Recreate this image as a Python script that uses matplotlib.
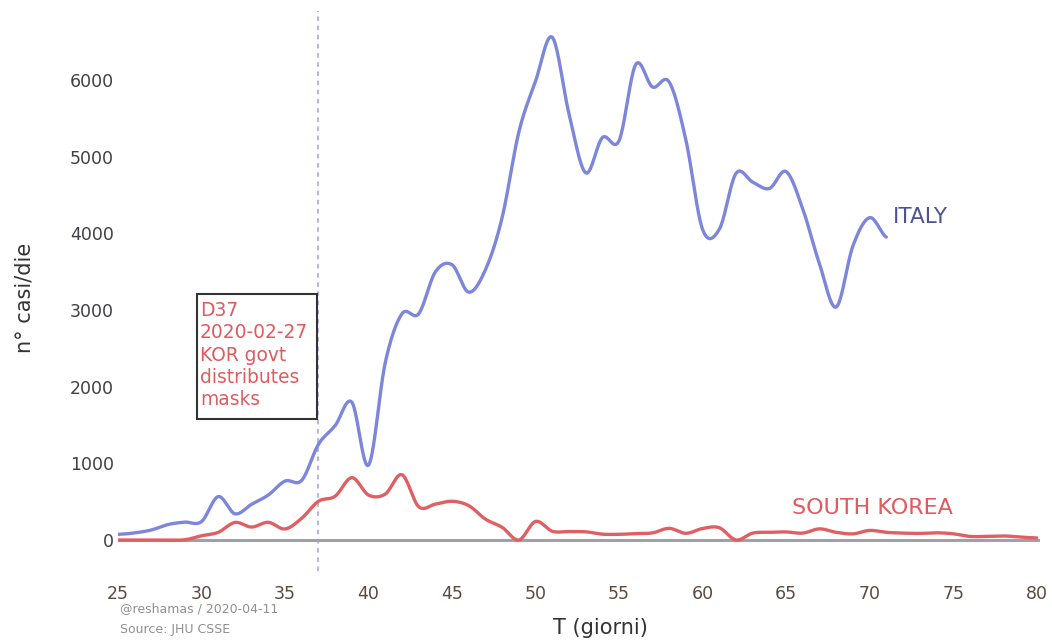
import numpy as np
import matplotlib
matplotlib.use("Agg")
import matplotlib.pyplot as plt
from matplotlib.patches import Rectangle

# ---- data ----
italy_days = list(range(25, 72))
italy_cases = [74, 93, 131, 202, 233, 240, 566, 342, 466, 587, 769, 778, 1247, 1492,
               1797, 977, 2313, 2950, 2950, 3497, 3590, 3233, 3526, 4207, 5322, 5986,
               6557, 5560, 4789, 5249, 5210, 6203, 5909, 5974, 5217, 4050, 4053, 4782,
               4668, 4585, 4805, 4316, 3599, 3039, 3836, 4204, 3951]

korea_days = list(range(25, 81))
korea_cases = [0, 0, 0, 0, 3, 55, 100, 229, 169, 231, 144, 284, 505, 571, 813, 586,
               599, 851, 435, 467, 505, 448, 272, 165, 0, 242, 114, 110, 107, 76, 74,
               84, 93, 152, 87, 150, 160, 0, 90, 100, 105, 90, 145, 100, 80, 125, 100,
               90, 86, 94, 81, 47, 47, 53, 39, 27]

x_ticks = [25, 30, 35, 40, 45, 50, 55, 60, 65, 70, 75, 80]
y_ticks = [0, 1000, 2000, 3000, 4000, 5000, 6000]
event_day = 37
event_text = "D37\n2020-02-27\nKOR govt\ndistributes\nmasks"


def catmull_rom(x, y, n=20):
    x = np.asarray(x, float)
    y = np.asarray(y, float)
    xp = np.concatenate([[2 * x[0] - x[1]], x, [2 * x[-1] - x[-2]]])
    yp = np.concatenate([[y[0]], y, [y[-1]]])
    xs, ys = [], []
    t = np.linspace(0, 1, n, endpoint=False)
    for i in range(1, len(xp) - 2):
        def f(a0, a1, a2, a3):
            return 0.5 * ((2 * a1) + (-a0 + a2) * t + (2 * a0 - 5 * a1 + 4 * a2 - a3) * t ** 2
                          + (-a0 + 3 * a1 - 3 * a2 + a3) * t ** 3)
        xs.append(f(xp[i - 1], xp[i], xp[i + 1], xp[i + 2]))
        ys.append(f(yp[i - 1], yp[i], yp[i + 1], yp[i + 2]))
    xs.append([x[-1]])
    ys.append([y[-1]])
    return np.concatenate(xs), np.concatenate(ys)


fig = plt.figure(figsize=(10.52, 6.41), dpi=100)
W, H = 1052, 641
L, R, T, B = 118, 1040, 11, 551.5
ax = fig.add_axes([L / W, 1 - B / H, (R - L) / W, (B - T) / H])
ax.set_xlim(25, 80.2)
ax.set_ylim(-150, 6900)

for s in ax.spines.values():
    s.set_visible(False)

ax.axhline(0, color="#a0a0a8", lw=2.2, zorder=1)

ix, iy = catmull_rom(italy_days, italy_cases)
kx, ky = catmull_rom(korea_days, korea_cases)
ax.plot(ix, iy, color="#7c86da", lw=2.4, zorder=3, solid_capstyle="round")
ax.plot(kx, ky, color="#e05f63", lw=2.4, zorder=3, solid_capstyle="round")

ax.plot([event_day, event_day], [-400, 6900], color="#9aa3e0", lw=1.1,
        ls=(0, (3, 3)), clip_on=False, zorder=2)

ax.set_xticks(x_ticks)
ax.set_yticks(y_ticks)
ax.tick_params(axis="x", length=0, pad=24, labelsize=12.5, labelcolor="#5a4a40")
ax.tick_params(axis="y", length=0, pad=3, labelsize=12.5, labelcolor="#404048")

# annotation box (figure pixel layout)
fig.patches.append(Rectangle((197 / W, 1 - 419 / H), 120 / W, 125 / H,
                             transform=fig.transFigure, fc="white", ec="#333333",
                             lw=1.5, zorder=4))
fig.text(200 / W, 1 - 301 / H, event_text, color="#e05a5e", fontsize=13.4,
         va="top", ha="left", linespacing=1.22, zorder=5)

ax.text(71.38, 4210, "ITALY", color="#4e5290", fontsize=15.5, va="center", ha="left")
ax.text(65.33, 417, "SOUTH KOREA", color="#e05a5e", fontsize=16, va="center", ha="left")

fig.text(600 / W, 1 - 628 / H, "T (giorni)", ha="center", va="center",
         fontsize=15, color="#333333")
fig.text(25 / W, 1 - 298 / H, "n° casi/die", ha="center", va="center",
         fontsize=15, color="#333333", rotation=90)
fig.text(120 / W, 1 - 609 / H, "@reshamas / 2020-04-11", ha="left", va="center",
         fontsize=9, color="#909090")
fig.text(120 / W, 1 - 630 / H, "Source: JHU CSSE", ha="left", va="center",
         fontsize=9, color="#909090")

fig.savefig("out.png", dpi=100)
